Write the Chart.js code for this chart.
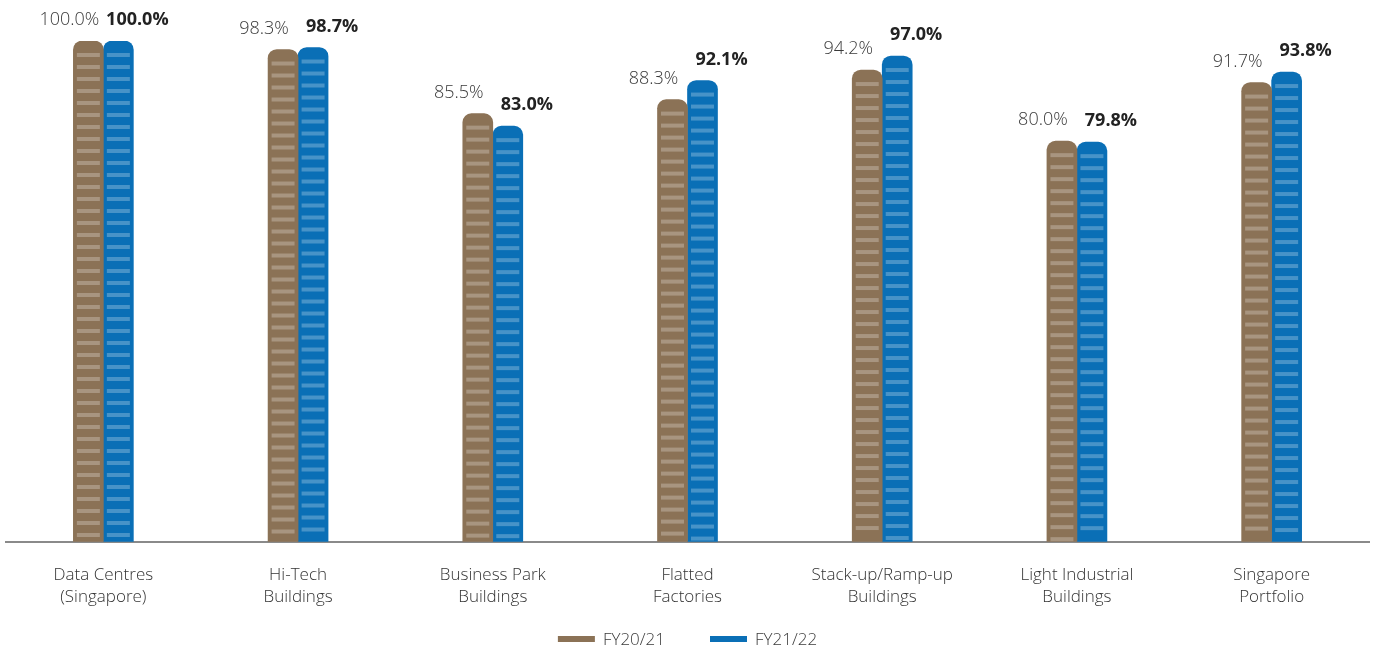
<!DOCTYPE html>
<html>
<head>
<meta charset="utf-8">
<script src="https://cdn.jsdelivr.net/npm/chart.js@4/dist/chart.umd.min.js"></script>
<style>
  html, body { margin: 0; padding: 0; background: #fff; }
  #wrap { width: 1375px; height: 652px; position: relative; }
</style>
</head>
<body>
<div id="wrap"><canvas id="occChart"></canvas></div>
<script>
// Data
const categories = [
  ["Data Centres", "(Singapore)"],
  ["Hi-Tech", "Buildings"],
  ["Business Park", "Buildings"],
  ["Flatted", "Factories"],
  ["Stack-up/Ramp-up", "Buildings"],
  ["Light Industrial", "Buildings"],
  ["Singapore", "Portfolio"]
];
const fy2021 = [100.0, 98.3, 85.5, 88.3, 94.2, 80.0, 91.7];
const fy2122 = [100.0, 98.7, 83.0, 92.1, 97.0, 79.8, 93.8];
const seriesNames = ["FY20/21", "FY21/22"];

const BROWN = "#8b7256";
const BLUE = "#0a6fb6";
const FONT = "'Open Sans', Lato, sans-serif";

// light horizontal stripes inside each bar
const stripes = {
  id: "stripes",
  afterDatasetsDraw(chart) {
    const ctx = chart.ctx;
    ctx.save();
    ctx.fillStyle = "rgba(255,255,255,0.25)";
    chart.data.datasets.forEach((ds, i) => {
      chart.getDatasetMeta(i).data.forEach(bar => {
        const { x, y, base, width } = bar.getProps(["x", "y", "base", "width"], true);
        const left = x - width / 2 + 3.5;
        const w = width - 7;
        for (let sy = y + 12; sy + 4 <= base; sy += 12) {
          ctx.fillRect(left, sy, w, 4);
        }
      });
    });
    ctx.restore();
  }
};

// value labels above the bars: old year light, new year bold
const valueLabels = {
  id: "valueLabels",
  afterDatasetsDraw(chart) {
    const ctx = chart.ctx;
    ctx.save();
    ctx.textAlign = "center";
    ctx.textBaseline = "middle";
    chart.data.datasets.forEach((ds, i) => {
      ctx.font = (i === 0 ? "300 " : "bold ") + "18px " + FONT;
      ctx.fillStyle = i === 0 ? "#3a3a3a" : "#222";
      const dx = i === 0 ? -19 : 19;
      chart.getDatasetMeta(i).data.forEach((bar, j) => {
        ctx.fillText(ds.data[j].toFixed(1) + "%", bar.x + dx, bar.y - 21);
      });
    });
    ctx.restore();
  }
};

// legend drawn by hand so the item gap and vertical spot can be set apart
const bottomLegend = {
  id: "bottomLegend",
  afterDraw(chart) {
    const ctx = chart.ctx;
    ctx.save();
    ctx.font = "300 17px " + FONT;
    ctx.textBaseline = "middle";
    ctx.textAlign = "left";
    const boxW = 37, boxH = 6, gapText = 8, gapItem = 45;
    const items = chart.data.datasets.map(ds => ({
      label: ds.label, color: ds.backgroundColor, w: ctx.measureText(ds.label).width
    }));
    let total = 0;
    items.forEach((it, i) => { total += boxW + gapText + it.w + (i ? gapItem : 0); });
    let x = chart.width / 2 - total / 2;
    const y = 639;
    items.forEach(it => {
      ctx.fillStyle = it.color;
      ctx.fillRect(x, y - boxH / 2, boxW, boxH);
      ctx.fillStyle = "#3a3a3a";
      ctx.fillText(it.label, x + boxW + gapText, y + 1);
      x += boxW + gapText + it.w + gapItem;
    });
    ctx.restore();
  }
};

new Chart(document.getElementById("occChart"), {
  type: "bar",
  data: {
    labels: categories,
    datasets: [
      { label: seriesNames[0], data: fy2021, backgroundColor: BROWN },
      { label: seriesNames[1], data: fy2122, backgroundColor: BLUE }
    ]
  },
  options: {
    responsive: true,
    maintainAspectRatio: false,
    animation: false,
    layout: { padding: { top: 41, left: 6, right: 6, bottom: 22 } },
    datasets: {
      bar: {
        barThickness: 30,
        borderRadius: { topLeft: 9, topRight: 9, bottomLeft: 0, bottomRight: 0 },
        borderSkipped: "start"
      }
    },
    plugins: {
      legend: { display: false },
      tooltip: { enabled: false }
    },
    scales: {
      x: {
        grid: { display: false, drawTicks: false },
        border: { display: true, color: "#8a8a8a", width: 2 },
        ticks: {
          padding: 22,
          color: "#333",
          font: { family: FONT, size: 17, weight: "300", lineHeight: 1.3 }
        }
      },
      y: {
        display: false,
        min: 0,
        max: 100
      }
    }
  },
  plugins: [stripes, valueLabels, bottomLegend]
});
</script>
</body>
</html>
